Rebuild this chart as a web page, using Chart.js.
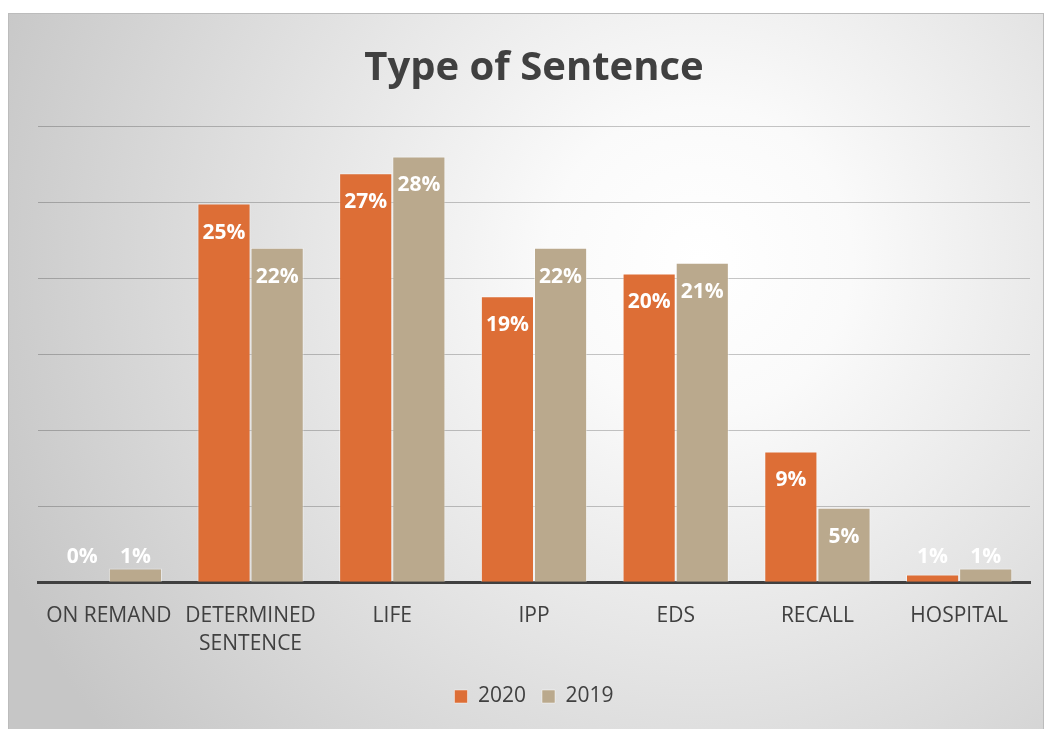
<!DOCTYPE html>
<html>
<head>
<meta charset="utf-8">
<title>Type of Sentence</title>
<script src="https://cdn.jsdelivr.net/npm/chart.js@4/dist/chart.umd.min.js"></script>
<style>
  html, body { margin: 0; padding: 0; background: #ffffff; }
  #wrap { width: 1045px; height: 729px; }
</style>
</head>
<body>
<div id="wrap"><canvas id="sentence-chart"></canvas></div>
<script>
// categories and shares (percent of total)
var categories = ["ON REMAND", ["DETERMINED", "SENTENCE"], "LIFE", "IPP", "EDS", "RECALL", "HOSPITAL"];
var values2020 = [0, 24.9, 26.9, 18.8, 20.3, 8.6, 0.5];
var values2019 = [0.9, 22.0, 28.0, 22.0, 21.0, 4.9, 0.9];
var seriesNames = ["2020", "2019"];

var textColor = "#404040";
var fontFace = "'Open Sans', 'Noto Sans', sans-serif";

// grey panel with a soft radial highlight behind everything
var panelBackground = {
  id: "panelBackground",
  beforeDraw: function(chart) {
    var ctx = chart.ctx;
    ctx.save();
    ctx.fillStyle = "#ffffff";
    ctx.fillRect(0, 0, chart.width, chart.height);
    var g = ctx.createRadialGradient(700, 260, 0, 700, 260, 760);
    g.addColorStop(0, "#ffffff");
    g.addColorStop(0.2, "#fafafa");
    g.addColorStop(1, "#c6c6c6");
    ctx.fillStyle = g;
    ctx.fillRect(8, 13, 1036, chart.height - 13);
    ctx.strokeStyle = "#bcbcbc";
    ctx.lineWidth = 1;
    ctx.strokeRect(8.5, 13.5, 1035, chart.height);
    ctx.restore();
  }
};

// percentage labels: inside the top of tall bars, on one line above the axis for short ones
var valueLabels = {
  id: "valueLabels",
  afterDraw: function(chart) {
    var ctx = chart.ctx;
    ctx.save();
    ctx.font = "bold 21px " + fontFace;
    ctx.fillStyle = "#ffffff";
    ctx.textAlign = "center";
    ctx.textBaseline = "middle";
    chart.data.datasets.forEach(function(ds, i) {
      var meta = chart.getDatasetMeta(i);
      meta.data.forEach(function(bar, j) {
        var v = ds.data[j];
        var txt = Math.round(v) + "%";
        if (v === 0.5) txt = "1%";
        var h = bar.base - bar.y;
        var y = h > 40 ? bar.y + 29 : bar.base - 25;
        ctx.fillText(txt, bar.x, y);
      });
    });
    ctx.restore();
  }
};

var chart = new Chart(document.getElementById("sentence-chart"), {
  type: "bar",
  data: {
    labels: categories,
    datasets: [{
      label: seriesNames[0],
      data: values2020,
      backgroundColor: "#dd6e36",
      borderColor: "rgba(255,255,255,0.45)",
      borderWidth: 1,
      categoryPercentage: 0.75,
      barPercentage: 1.0
    }, {
      label: seriesNames[1],
      data: values2019,
      backgroundColor: "#baa98d",
      borderColor: "rgba(255,255,255,0.45)",
      borderWidth: 1,
      categoryPercentage: 0.75,
      barPercentage: 1.0
    }]
  },
  options: {
    responsive: true,
    maintainAspectRatio: false,
    animation: false,
    layout: { padding: { left: 38, right: 15, top: 0, bottom: 12 } },
    plugins: {
      title: {
        display: true,
        text: "Type of Sentence",
        color: textColor,
        font: { family: fontFace, size: 40, weight: "bold" },
        padding: { top: 45, bottom: 33 }
      },
      legend: {
        position: "bottom",
        labels: {
          color: textColor,
          font: { family: fontFace, size: 21 },
          boxWidth: 13,
          boxHeight: 13,
          padding: 16
        }
      },
      tooltip: { enabled: false }
    },
    scales: {
      x: {
        grid: { display: false },
        border: { color: textColor, width: 3 },
        ticks: {
          color: textColor,
          font: { family: fontFace, size: 21, lineHeight: 1.33 },
          padding: 12,
          maxRotation: 0,
          autoSkip: false
        }
      },
      y: {
        min: 0,
        max: 30,
        z: 1,
        ticks: { display: false, stepSize: 5 },
        border: { display: false },
        grid: { color: "rgba(0,0,0,0.22)", lineWidth: 1, drawTicks: false }
      }
    }
  },
  plugins: [panelBackground, valueLabels]
});
</script>
</body>
</html>
